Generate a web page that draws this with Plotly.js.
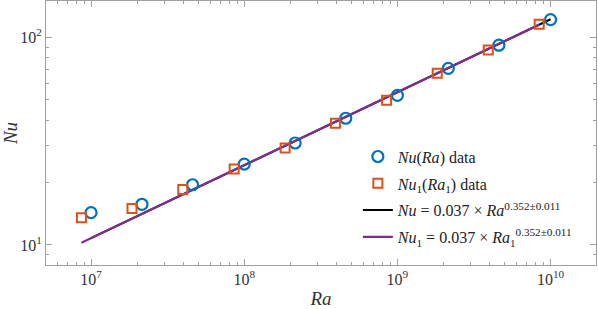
<!DOCTYPE html>
<html>
<head>
<meta charset="utf-8">
<script src="https://cdn.plot.ly/plotly-3.0.1.min.js"></script>
<style>html,body{margin:0;padding:0;background:#fff;}#chart{width:598px;height:309px;}</style>
</head>
<body>
<div id="chart"></div>
<script>
// Nu(Ra) data (blue circles)
const raData = [1e7, 2.15e7, 4.6e7, 1e8, 2.15e8, 4.6e8, 1e9, 2.15e9, 4.6e9, 1e10];
const nuData = [14.3, 15.7, 19.5, 24.5, 31.0, 40.8, 52.6, 71.0, 91.8, 122];
// Nu1(Ra1) data (orange squares)
const ra1Data = [8.65e6, 1.85e7, 3.97e7, 8.6e7, 1.85e8, 3.94e8, 8.5e8, 1.82e9, 3.92e9, 8.43e9];
const nu1Data = [13.5, 15.0, 18.5, 23.2, 29.3, 38.6, 49.9, 67.3, 87.1, 115.8];
// Fit lines (end points)
const fitRa = [1e7, 1e10];
const fitNu = [10.77, 122.5];
const fit1Ra = [8.65e6, 8.43e9];
const fit1Nu = [10.24, 115.4];
// Tick labels
const xTickVals = [1e7, 1e8, 1e9, 1e10];
const xTickText = ['10<sup>7</sup>', '10<sup>8</sup>', '10<sup>9</sup>', '10<sup>10</sup>'];
const yTickVals = [10, 100];
const yTickText = ['10<sup>1</sup>', '10<sup>2</sup>'];

function minorTicks(lo, hi) {
  const out = [];
  for (let e = lo; e <= hi; e++) for (let m = 2; m <= 9; m++) out.push(m * Math.pow(10, e));
  return out;
}

const serif = "Liberation Serif, DejaVu Serif, serif";
const blue = '#0072BD', orange = '#D95319', purple = '#7E2F8E';

const fitBlack = {x: fitRa, y: fitNu, type: 'scatter', mode: 'lines', legendrank: 3, legendgroup: 'c',
   name: '<i>Nu</i> = 0.037 × <i>Ra</i><sup>0.352±0.011</sup>',
   line: {color: '#000', width: 2}};
const fitPurple = {x: fit1Ra, y: fit1Nu, type: 'scatter', mode: 'lines', legendrank: 4, legendgroup: 'd',
   name: '<i>Nu</i><sub>1</sub> = 0.037 × <i>Ra</i><sub>1</sub><sup>0.352±0.011</sup>',
   line: {color: purple, width: 2.3}};
const circles = {x: raData, y: nuData, type: 'scatter', mode: 'markers', legendrank: 1, legendgroup: 'a',
   name: '<i>Nu</i>(<i>Ra</i>) data',
   marker: {symbol: 'circle-open', size: 11, color: blue, line: {width: 2.2, color: blue}}};
const squares = {x: ra1Data, y: nu1Data, type: 'scatter', mode: 'markers', legendrank: 2, legendgroup: 'b',
   name: '<i>Nu</i><sub>1</sub>(<i>Ra</i><sub>1</sub>) data',
   marker: {symbol: 'square-open', size: 9, color: orange, line: {width: 2, color: orange}}};

const axisCommon = {
  type: 'log', showgrid: false, zeroline: false, showline: true, linecolor: '#a0a0a0', linewidth: 1,
  mirror: 'ticks', ticks: 'inside', ticklen: 6, tickcolor: '#a0a0a0', tickwidth: 1,
  tickfont: {family: serif, size: 16, color: '#333'}, tickmode: 'array'
};

const layout = {
  width: 598, height: 309,
  margin: {l: 46, r: 2, t: 1, b: 44},
  paper_bgcolor: '#fff', plot_bgcolor: '#fff',
  showlegend: true,
  legend: {x: 0.567, y: 0.475, xanchor: 'left', yanchor: 'top', bgcolor: 'rgba(0,0,0,0)',
           font: {family: serif, size: 16, color: '#222'}, traceorder: 'grouped', itemwidth: 30, tracegroupgap: 3},
  xaxis: Object.assign({}, axisCommon, {
    range: [Math.log10(5.08e6), Math.log10(1.98e10)],
    tickvals: xTickVals, ticktext: xTickText,
    minor: {tickmode: 'array', tickvals: minorTicks(6, 10), ticks: 'inside', ticklen: 3, tickcolor: '#a0a0a0', showgrid: false},
    title: {text: '<i>Ra</i>', font: {family: serif, size: 19, color: '#333'}, standoff: 9}
  }),
  yaxis: Object.assign({}, axisCommon, {
    range: [Math.log10(8.0), Math.log10(150)],
    tickvals: yTickVals, ticktext: yTickText,
    minor: {tickmode: 'array', tickvals: minorTicks(0, 2), ticks: 'inside', ticklen: 3, tickcolor: '#a0a0a0', showgrid: false},
    title: {text: '<i>Nu</i>', font: {family: serif, size: 19, color: '#333'}, standoff: 6}
  })
};

Plotly.newPlot('chart', [fitBlack, fitPurple, circles, squares], layout, {displayModeBar: false, staticPlot: true});
</script>
</body>
</html>
